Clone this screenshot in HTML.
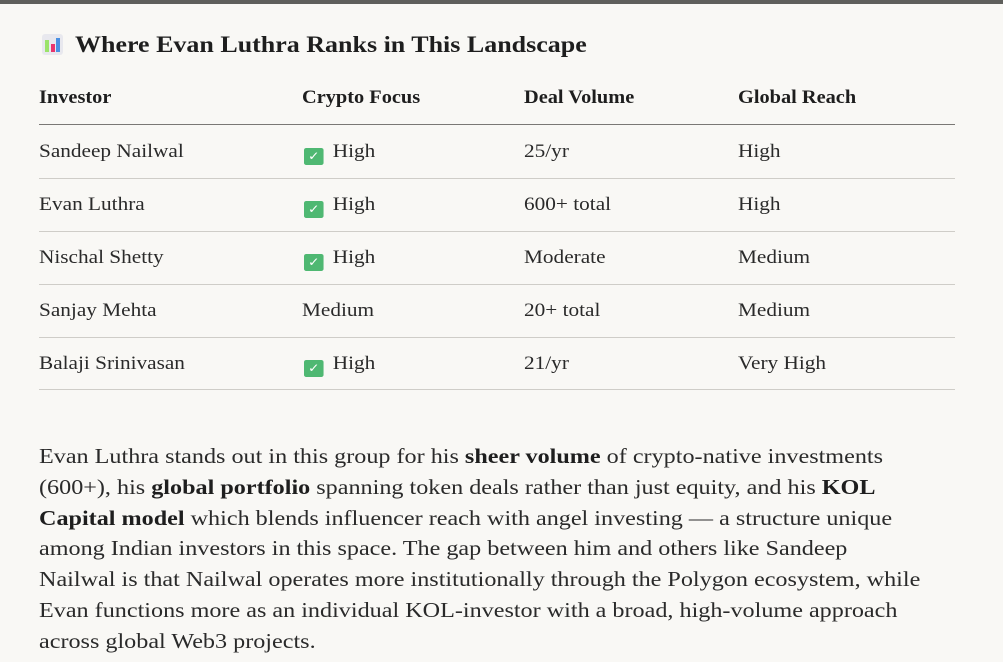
<!DOCTYPE html>
<html><head><meta charset="utf-8"><style>
body{margin:0;width:1003px;height:662px;overflow:hidden;background:#f9f8f5;font-family:"Liberation Serif",serif;color:#2a2a2a;position:relative}
.top{position:absolute;left:0;top:0;width:1003px;height:4px;background:#5f5f5c}
.title{position:absolute;left:42px;top:32px;font-size:23px;font-weight:bold;color:#1e1e1e;white-space:nowrap}
.title span.t{display:inline-block;transform:scaleX(1.13);transform-origin:left}
.ic{display:inline-block;width:21px;height:21px;border-radius:3px;background:#e8e8ee;vertical-align:-3px;margin-right:12px;position:relative}
.ic i{position:absolute;bottom:3px;width:4px}
.c{position:absolute;font-size:18.5px;white-space:nowrap;transform:scaleX(1.15);transform-origin:left}
.h{font-weight:bold;color:#1e1e1e;transform:scaleX(1.1)}
.line{position:absolute;left:39px;width:916px;height:1px;background:#cfcdc8}
.chk{display:inline-block;width:17px;height:17px;background:#4fb872;border-radius:2px;vertical-align:-3px;margin-right:8px;color:#fff;font-size:12px;text-align:center;line-height:17px;font-family:"DejaVu Sans",sans-serif}
.p{position:absolute;left:39px;top:441px;font-size:21px;line-height:30.8px;color:#2a2a2a;white-space:nowrap;transform:scaleX(1.15);transform-origin:left}
.p b{color:#1e1e1e}
</style></head><body>
<div class="top"></div>
<div class="title"><span class="ic"><i style="left:3px;height:12px;background:#9be36a"></i><i style="left:8.5px;height:8px;background:#e8356d"></i><i style="left:14px;height:14px;background:#4a90e2"></i></span><span class="t">Where Evan Luthra Ranks in This Landscape</span></div>
<div class="c h" style="left:39px;top:88px">Investor</div>
<div class="c h" style="left:302px;top:88px">Crypto Focus</div>
<div class="c h" style="left:524px;top:88px">Deal Volume</div>
<div class="c h" style="left:738px;top:88px">Global Reach</div>
<div class="line" style="top:124px;background:#7a7875"></div>

<div class="c" style="left:39px;top:142px">Sandeep Nailwal</div>
<div class="c" style="left:304px;top:142px"><span class="chk">✓</span>High</div>
<div class="c" style="left:524px;top:142px">25/yr</div>
<div class="c" style="left:738px;top:142px">High</div>
<div class="line" style="top:178px"></div>

<div class="c" style="left:39px;top:195px">Evan Luthra</div>
<div class="c" style="left:304px;top:195px"><span class="chk">✓</span>High</div>
<div class="c" style="left:524px;top:195px">600+ total</div>
<div class="c" style="left:738px;top:195px">High</div>
<div class="line" style="top:231px"></div>

<div class="c" style="left:39px;top:248px">Nischal Shetty</div>
<div class="c" style="left:304px;top:248px"><span class="chk">✓</span>High</div>
<div class="c" style="left:524px;top:248px">Moderate</div>
<div class="c" style="left:738px;top:248px">Medium</div>
<div class="line" style="top:284px"></div>

<div class="c" style="left:39px;top:301px">Sanjay Mehta</div>
<div class="c" style="left:302px;top:301px">Medium</div>
<div class="c" style="left:524px;top:301px">20+ total</div>
<div class="c" style="left:738px;top:301px">Medium</div>
<div class="line" style="top:337px"></div>

<div class="c" style="left:39px;top:354px">Balaji Srinivasan</div>
<div class="c" style="left:304px;top:354px"><span class="chk">✓</span>High</div>
<div class="c" style="left:524px;top:354px">21/yr</div>
<div class="c" style="left:738px;top:354px">Very High</div>
<div class="line" style="top:389px"></div>

<div class="p">Evan Luthra stands out in this group for his <b>sheer volume</b> of crypto-native investments<br>(600+), his <b>global portfolio</b> spanning token deals rather than just equity, and his <b>KOL</b><br><b>Capital model</b> which blends influencer reach with angel investing — a structure unique<br>among Indian investors in this space. The gap between him and others like Sandeep<br>Nailwal is that Nailwal operates more institutionally through the Polygon ecosystem, while<br>Evan functions more as an individual KOL-investor with a broad, high-volume approach<br>across global Web3 projects.</div>
</body></html>
